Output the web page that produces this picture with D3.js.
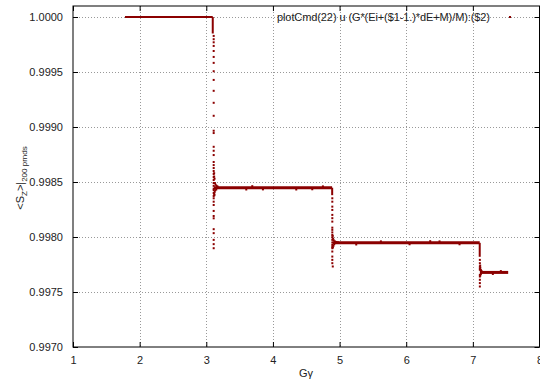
<!DOCTYPE html>
<html>
<head>
<meta charset="utf-8">
<script src="https://cdn.jsdelivr.net/npm/d3@7"></script>
<style>
  body { margin: 0; background: #fff; }
  svg { display: block; font-family: "Liberation Sans", Arial, sans-serif; }
</style>
</head>
<body>
<svg id="chart" width="540" height="383"></svg>
<script>
// ---- data ----
const xTicks = [1, 2, 3, 4, 5, 6, 7, 8];
const yTicks = [0.9970, 0.9975, 0.9980, 0.9985, 0.9990, 0.9995, 1.0000];
const legendLabel = "plotCmd(22) u (G*(Ei+($1-1.)*dE+M)/M):($2)";

// plateaus (dense runs of points)
const plateauStart = [1.78, 3.115, 4.895, 7.105];
const plateauEnd   = [3.097, 4.888, 7.103, 7.53];
const plateauLevel = [1.00000, 0.998448, 0.997947, 0.997678];

// dense vertical runs at the jumps
const dropG    = [3.097, 4.889, 7.103];
const dropFrom = [1.00000, 0.998448, 0.997947];
const dropTo   = [0.99985, 0.99838, 0.99782];

// sparse points in the transients
const transientG = [
  3.111,3.111,3.111,3.111,3.111,3.111,3.111,3.111,3.111,3.111,3.111,3.111,3.111,3.111,
  3.111,3.111,3.111,3.111,3.111,3.111,3.111,3.111,3.111,3.111,3.111,3.111,3.111,3.111,
  3.111,3.111,3.111,3.111,3.111,3.111,3.111,3.111,3.111,3.111,3.111,3.111,3.111,
  3.118,3.124,3.130,3.140,3.155,3.170,3.120,3.126,3.135,3.150,3.118,3.122,
  4.891,4.891,4.891,4.891,4.891,4.891,4.891,4.891,4.891,4.891,4.891,4.891,4.891,4.891,
  4.891,4.891,4.891,4.891,4.891,4.891,4.891,
  4.897,4.903,4.912,4.930,4.950,4.975,4.900,4.908,4.920,4.898,
  7.105,7.105,7.105,7.105,7.105,7.105,7.105,7.105,7.105,7.105,
  7.112,7.120,7.130,7.112,7.122,7.110
];
const transientS = [
  0.999828,0.999798,0.999770,0.999737,0.999691,0.999637,0.999583,0.999507,0.999428,0.999329,0.999220,0.999102,0.998966,0.998945,
  0.998820,0.998784,0.998745,0.998682,0.998654,0.998627,0.998600,0.998573,0.998545,0.998518,0.998491,0.998465,0.998440,0.998427,
  0.998400,0.998373,0.998352,0.998321,0.998291,0.998237,0.998191,0.998170,0.998071,0.998035,0.997974,0.997935,0.997898,
  0.998580,0.998530,0.998490,0.998475,0.998465,0.998458,0.998390,0.998410,0.998425,0.998432,0.998550,0.998380,
  0.998352,0.998321,0.998276,0.998246,0.998201,0.998171,0.998140,0.998085,0.998065,0.998042,0.998019,0.997997,0.997974,0.997950,
  0.997928,0.997910,0.997898,0.997868,0.997822,0.997792,0.997762,
  0.998010,0.997985,0.997970,0.997960,0.997955,0.997952,0.997905,0.997920,0.997935,0.997732,
  0.997792,0.997762,0.997732,0.997715,0.997702,0.997656,0.997641,0.997611,0.997581,0.997550,
  0.997720,0.997700,0.997690,0.997650,0.997665,0.997740
];
// isolated glitches on the plateaus
const glitchG = [3.60, 3.69, 3.85, 4.35, 4.59, 4.75, 5.25, 5.62, 6.05, 6.36, 6.50, 6.80, 7.30, 7.42];
const glitchS = [0.998432, 0.998462, 0.998433, 0.998432, 0.998434, 0.998460, 0.997932, 0.997960, 0.997934, 0.997962, 0.997960, 0.997934, 0.997664, 0.997690];

// ---- chart ----
const W = 540, H = 383;
const m = { left: 73, right: 0.5, top: 6, bottom: 36 };
const svg = d3.select("#chart");
const color = "#8b0000";

const x = d3.scaleLinear().domain([1, 8]).range([m.left, W - m.right]);
const y = d3.scaleLinear().domain([0.997, 1.0001]).range([H - m.bottom, m.top]);

// grid
const grid = svg.append("g").attr("stroke", "#999").attr("stroke-dasharray", "1,2").attr("stroke-width", 1);
grid.selectAll("line.gx").data(xTicks.slice(1, -1)).join("line")
  .attr("x1", d => Math.round(x(d)) + 0.5).attr("x2", d => Math.round(x(d)) + 0.5)
  .attr("y1", m.top).attr("y2", H - m.bottom);
grid.selectAll("line.gy").data(yTicks.slice(1)).join("line")
  .attr("y1", d => Math.round(y(d)) + 0.5).attr("y2", d => Math.round(y(d)) + 0.5)
  .attr("x1", m.left).attr("x2", W - m.right);

// axes with inward ticks
const fmtY = d3.format(".4f");
const axB = svg.append("g").attr("transform", `translate(0,${H - m.bottom})`)
  .call(d3.axisBottom(x).tickValues(xTicks).tickSize(-5).tickPadding(9).tickFormat(d3.format("d")));
const axT = svg.append("g").attr("transform", `translate(0,${m.top})`)
  .call(d3.axisTop(x).tickValues(xTicks).tickSize(-5).tickFormat(""));
const axL = svg.append("g").attr("transform", `translate(${m.left},0)`)
  .call(d3.axisLeft(y).tickValues(yTicks).tickSize(-5).tickPadding(10).tickFormat(fmtY));
const axR = svg.append("g").attr("transform", `translate(${W - m.right},0)`)
  .call(d3.axisRight(y).tickValues(yTicks).tickSize(-5).tickFormat(""));
[axB, axT, axL, axR].forEach(a => {
  a.select(".domain").remove();
  a.selectAll("line").attr("stroke", "#000");
  a.selectAll("text").attr("fill", "#222").style("font-size", "11px").style("font-family", "Liberation Sans, Arial, sans-serif");
});

// legend
svg.append("text").attr("x", 490).attr("y", 17).attr("dy", "0.35em").attr("text-anchor", "end")
  .style("font-size", "11px").attr("fill", "#222").attr("textLength", 213).text(legendLabel);
svg.append("rect").attr("x", 509).attr("y", 16).attr("width", 2).attr("height", 2).attr("fill", color);

// data: plateaus
const pts = svg.append("g");
pts.selectAll("line.pl").data(plateauLevel).join("line")
  .attr("x1", (d, i) => x(plateauStart[i])).attr("x2", (d, i) => x(plateauEnd[i]))
  .attr("y1", d => y(d)).attr("y2", d => y(d))
  .attr("stroke", color).attr("stroke-width", (d, i) => i === 0 ? 2 : 3);
pts.selectAll("line.dr").data(dropG).join("line")
  .attr("x1", d => x(d)).attr("x2", d => x(d))
  .attr("y1", (d, i) => y(dropFrom[i])).attr("y2", (d, i) => y(dropTo[i]))
  .attr("stroke", color).attr("stroke-width", 2);
pts.selectAll("rect.tr").data(transientG).join("rect")
  .attr("x", d => x(d) - 1).attr("y", (d, i) => y(transientS[i]) - 1)
  .attr("width", 2).attr("height", 2).attr("fill", color);
pts.selectAll("rect.gl").data(glitchG).join("rect")
  .attr("x", d => x(d) - 1).attr("y", (d, i) => y(glitchS[i]) - 1)
  .attr("width", 2).attr("height", 2).attr("fill", color);

// frame
svg.append("rect").attr("x", m.left).attr("y", m.top)
  .attr("width", W - m.right - m.left).attr("height", H - m.bottom - m.top)
  .attr("fill", "none").attr("stroke", "#000").attr("stroke-width", 1);

// axis labels
svg.append("text").attr("x", 306).attr("y", 377).attr("text-anchor", "middle")
  .style("font-size", "11px").attr("fill", "#222").text("Gγ");
const yl = svg.append("text").attr("transform", "translate(24,178) rotate(-90)")
  .attr("text-anchor", "middle").style("font-size", "11px").attr("fill", "#222");
yl.append("tspan").text("<S");
yl.append("tspan").attr("dy", 3).style("font-size", "8px").text("Z");
yl.append("tspan").attr("dy", -3).text(">|");
yl.append("tspan").attr("dy", 3).style("font-size", "8px").text("200 prnds");
</script>
</body>
</html>
